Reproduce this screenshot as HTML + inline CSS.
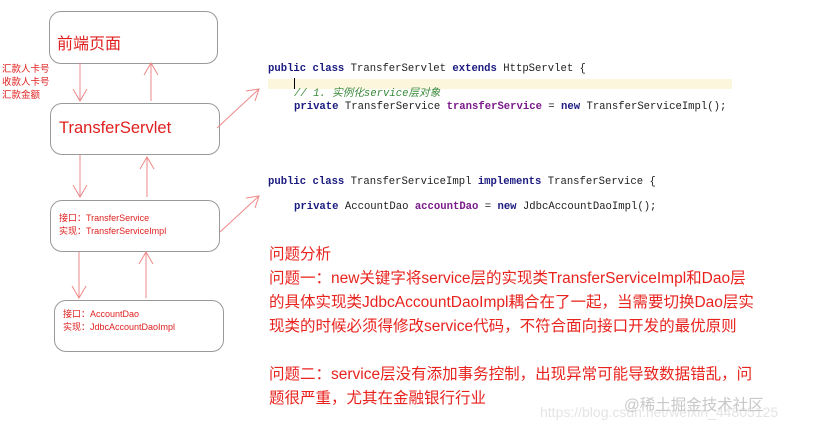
<!DOCTYPE html>
<html><head><meta charset="utf-8"><style>
body{margin:0;width:820px;height:429px;background:#fff;position:relative;overflow:hidden;font-family:"Liberation Sans","Noto Sans CJK SC",sans-serif}
.a{position:absolute;white-space:nowrap}
.box{position:absolute;border:1px solid #999;border-radius:12px;background:#fff}
.r{color:#e02020}
.code{font-family:"Liberation Mono","Noto Sans CJK SC",monospace;font-size:10.6px;color:#222;line-height:13px}
.k{color:#1a1a80;font-weight:bold}
.p{color:#7a1a8a;font-weight:bold}
.t{font-size:15.5px;color:#e8231e;line-height:24px}
</style></head><body>
<div class="box" style="left:49px;top:11px;width:167px;height:51px"></div>
<div class="box" style="left:50px;top:103px;width:168px;height:50px"></div>
<div class="box" style="left:50px;top:200px;width:168px;height:50px"></div>
<div class="box" style="left:54px;top:300px;width:168px;height:50px"></div>
<svg class="a" style="left:0;top:0" width="820" height="429">
<g stroke="#e88" stroke-width="1" fill="none">
<line x1="80" y1="63" x2="80" y2="101"/><polyline points="73,89 80,101 87,89"/>
<line x1="151" y1="101" x2="151" y2="63"/><polyline points="144,75 151,63 158,75"/>
<line x1="80" y1="155" x2="80" y2="197"/><polyline points="73,185 80,197 87,185"/>
<line x1="147" y1="197" x2="147" y2="157"/><polyline points="140,169 147,157 154,169"/>
<line x1="79" y1="252" x2="79" y2="298"/><polyline points="72,286 79,298 86,286"/>
<line x1="146" y1="298" x2="146" y2="252"/><polyline points="139,264 146,252 153,264"/>
<line x1="217" y1="128" x2="259" y2="89"/><polyline points="246,91 259,89 255,101"/>
<line x1="220" y1="232" x2="259" y2="196"/><polyline points="246,198 259,196 255,208"/>
</g></svg>
<div class="a r" style="left:57px;top:30px;font-size:16px">前端页面</div>
<div class="a r" style="left:2px;top:63px;font-size:9.5px;line-height:13px">汇款人卡号<br>收款人卡号<br>汇款金额</div>
<div class="a r" style="left:59px;top:119px;font-size:16.5px">TransferServlet</div>
<div class="a r" style="left:59px;top:212px;font-size:9px;line-height:13px">接口：TransferService<br>实现：TransferServiceImpl</div>
<div class="a r" style="left:63px;top:308px;font-size:9px;line-height:13px">接口：AccountDao<br>实现：JdbcAccountDaoImpl</div>
<div class="a" style="left:268px;top:79px;width:464px;height:10px;background:#fcf6dc"></div>
<div class="a" style="left:294px;top:78px;width:1px;height:11px;background:#000"></div>
<div class="a code" style="left:268px;top:63px"><span class="k">public class</span> TransferServlet <span class="k">extends</span> HttpServlet {</div>
<div class="a code" style="left:294px;top:88px;color:#3a8a3a;font-style:italic">// 1. 实例化service层对象</div>
<div class="a code" style="left:294px;top:101px"><span class="k">private</span> TransferService <span class="p">transferService</span> = <span class="k">new</span> TransferServiceImpl();</div>
<div class="a code" style="left:268px;top:176px"><span class="k">public class</span> TransferServiceImpl <span class="k">implements</span> TransferService {</div>
<div class="a code" style="left:294px;top:201px"><span class="k">private</span> AccountDao <span class="p">accountDao</span> = <span class="k">new</span> JdbcAccountDaoImpl();</div>
<div class="a t" style="left:269px;top:243px">问题分析<br>问题一：new关键字将service层的实现类TransferServiceImpl和Dao层<br>的具体实现类JdbcAccountDaoImpl耦合在了一起，当需要切换Dao层实<br>现类的时候必须得修改service代码，不符合面向接口开发的最优原则<br><br>问题二：service层没有添加事务控制，出现异常可能导致数据错乱，问<br>题很严重，尤其在金融银行行业</div>
<div class="a" style="left:540px;top:404px;font-size:14px;color:#e4e4e4">https://blog.csdn.net/weixin_44805125</div>
<div class="a" style="left:624px;top:393px;font-size:15.5px;color:#c8c8c8">@稀土掘金技术社区</div>
</body></html>
